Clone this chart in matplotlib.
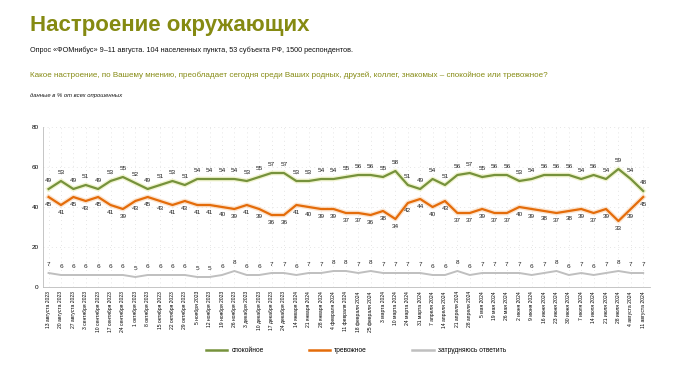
import matplotlib.pyplot as plt
from matplotlib.lines import Line2D

Dates = ["13 августа 2023", "20 августа 2023", "27 августа 2023", "3 сентября 2023", "10 сентября 2023",
         "17 сентября 2023", "24 сентября 2023", "1 октября 2023", "8 октября 2023", "15 октября 2023",
         "22 октября 2023", "29 октября 2023", "5 ноября 2023", "12 ноября 2023", "19 ноября 2023",
         "26 ноября 2023", "3 декабря 2023", "10 декабря 2023", "17 декабря 2023", "24 декабря 2023",
         "14 января 2024", "21 января 2024", "28 января 2024", "4 февраля 2024", "11 февраля 2024",
         "18 февраля 2024", "25 февраля 2024", "3 марта 2024", "10 марта 2024", "24 марта 2024",
         "31 марта 2024", "7 апреля 2024", "14 апреля 2024", "21 апреля 2024", "28 апреля 2024",
         "5 мая 2024", "19 мая 2024", "26 мая 2024", "2 июня 2024", "9 июня 2024", "16 июня 2024",
         "23 июня 2024", "30 июня 2024", "7 июля 2024", "14 июля 2024", "21 июля 2024", "28 июля 2024",
         "4 августа 2024", "11 августа 2024"]

Calm = [49, 53, 49, 51, 49, 53, 55, 52, 49, 51, 53, 51, 54, 54, 54, 54, 53, 55, 57, 57,
        53, 53, 54, 54, 55, 56, 56, 55, 58, 51, 49, 54, 51, 56, 57, 55, 56, 56, 53, 54,
        56, 56, 56, 54, 56, 54, 59, 54, 48]
Anxious = [45, 41, 45, 43, 45, 41, 39, 43, 45, 43, 41, 43, 41, 41, 40, 39, 41, 39, 36, 36,
           41, 40, 39, 39, 37, 37, 36, 38, 34, 42, 44, 40, 43, 37, 37, 39, 37, 37, 40, 39,
           38, 37, 38, 39, 37, 39, 33, 39, 45]
Unsure = [7, 6, 6, 6, 6, 6, 6, 5, 6, 6, 6, 6, 5, 5, 6, 8, 6, 6, 7, 7,
          6, 7, 7, 8, 8, 7, 8, 7, 7, 7, 7, 6, 6, 8, 6, 7, 7, 7, 7, 6,
          7, 8, 6, 7, 6, 7, 8, 7, 7]

Names = ["спокойное", "тревожное", "затрудняюсь ответить"]
Colors = ["#76923C", "#E46C0A", "#BFBFBF"]

plt.rcParams['font.family'] = ['DejaVu Sans']
narrow = ['Liberation Sans Narrow', 'Liberation Sans', 'DejaVu Sans']

fig = plt.figure(figsize=(6.8, 3.66), dpi=100)
ax = fig.add_axes([43/680, 79/366, 607/680, 160/366])

x = list(range(len(Dates)))
ax.plot(x, Calm, color="#E8EDB0", lw=3.5, alpha=0.6, zorder=2)
ax.plot(x, Calm, color=Colors[0], lw=1.6, zorder=3)
ax.plot(x, Anxious, color="#F9D3B0", lw=3.5, alpha=0.6, zorder=2)
ax.plot(x, Anxious, color=Colors[1], lw=1.6, zorder=3)
ax.plot(x, Unsure, color=Colors[2], lw=1.4, zorder=3)

for i in x:
    ax.annotate(str(Calm[i]), (i, Calm[i]), xytext=(0, 4), textcoords="offset points",
                ha="center", va="bottom", fontsize=4.6, color="#222222", family=narrow)
    ax.annotate(str(Anxious[i]), (i, Anxious[i]), xytext=(0, -3.5), textcoords="offset points",
                ha="center", va="top", fontsize=4.6, color="#222222", family=narrow)
    ax.annotate(str(Unsure[i]), (i, Unsure[i]), xytext=(0, 4), textcoords="offset points",
                ha="center", va="bottom", fontsize=4.6, color="#222222", family=narrow)

ax.set_xlim(-0.45, len(Dates) - 0.45)
ax.set_ylim(0, 80)
ax.set_yticks([0, 20, 40, 60, 80])
ax.set_xticks(x)
ax.set_xticklabels(Dates, rotation=90, fontsize=3.6, family=narrow)
ax.tick_params(axis="y", labelsize=4.6, length=0, pad=3)
ax.tick_params(axis="x", length=0, pad=3)
for lab in ax.get_yticklabels():
    lab.set_family(narrow)

ax.grid(True, axis="both", color="#DDDDDD", linestyle=(0, (1, 4)), lw=0.6)
ax.set_axisbelow(True)
for s in ["top", "right"]:
    ax.spines[s].set_visible(False)
ax.spines["left"].set_color("#BBBBBB")
ax.spines["left"].set_linewidth(0.6)
ax.spines["bottom"].set_color("#BBBBBB")
ax.spines["bottom"].set_linewidth(0.6)

fig.text(30/680, 1 - 26/366, "Настроение окружающих", fontsize=16, fontweight="bold",
         color="#858A12", family=narrow, va="center")
fig.text(30/680, 1 - 50/366, "Опрос «ФОМнибус» 9–11 августа. 104 населенных пункта, 53 субъекта РФ, 1500 респондентов.",
         fontsize=5.2, color="#111111", family=narrow, va="center")
fig.text(30/680, 1 - 75/366, "Какое настроение, по Вашему мнению, преобладает сегодня среди Ваших родных, друзей, коллег, знакомых – спокойное или тревожное?",
         fontsize=5.75, color="#858A12", family=narrow, va="center")
fig.text(30/680, 1 - 95/366, "данные в % от всех опрошенных", fontsize=4.2, style="italic",
         color="#111111", family=narrow, va="center")

handles = [Line2D([0], [0], color=c, lw=1.8) for c in Colors]
fig.legend(handles, Names, loc="center left", bbox_to_anchor=(200/680, 1 - 351/366), ncol=3,
           frameon=False, handlelength=3.2, handletextpad=0.6, columnspacing=6.8,
           prop={'family': narrow, 'size': 4.8})

fig.savefig("out.png", dpi=100, facecolor="white")
